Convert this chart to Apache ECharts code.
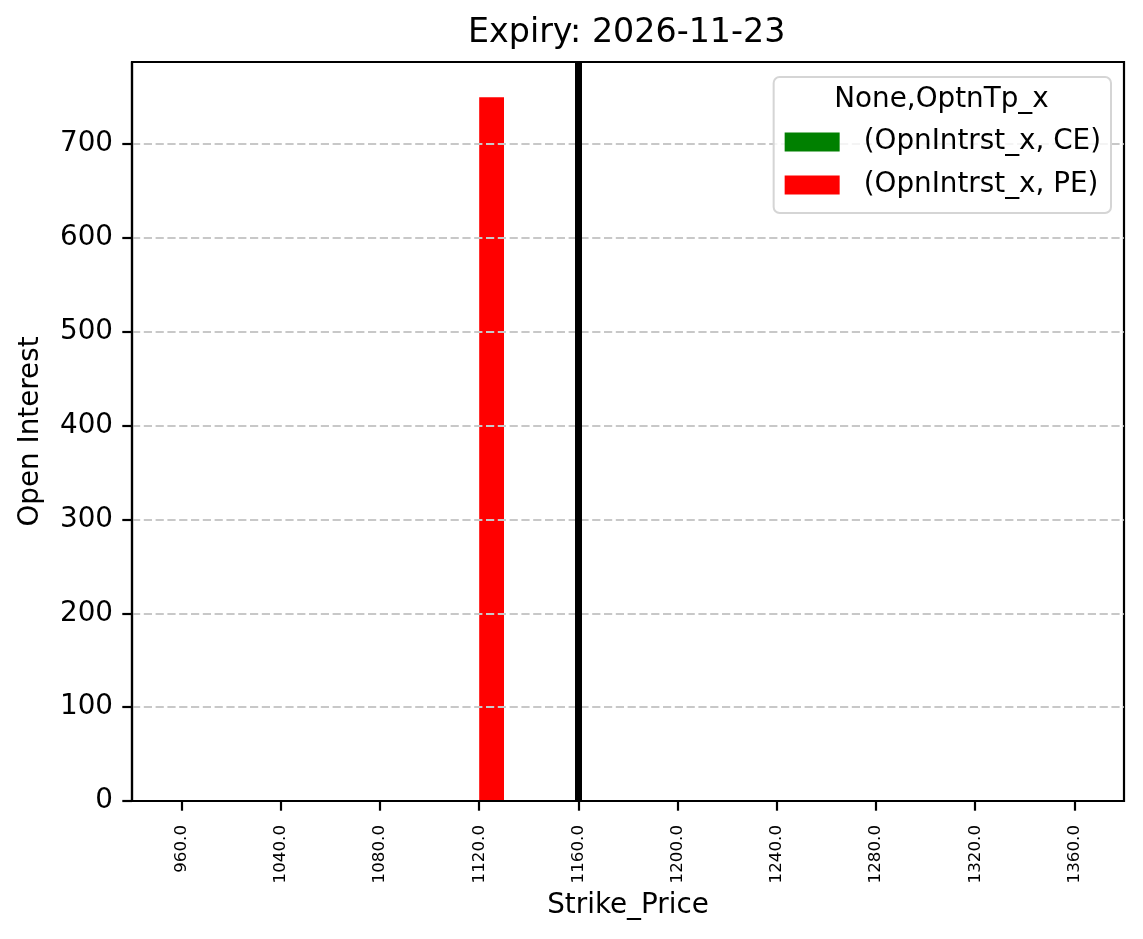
<!DOCTYPE html>
<html><head><meta charset="utf-8">
<script src="https://cdn.jsdelivr.net/npm/echarts@6/dist/echarts.min.js"></script>
<style>html,body{margin:0;padding:0;background:#fff}#c{width:1143px;height:939px}</style>
</head><body><div id="c"></div>
<script>
const strikes = ['960.0','1040.0','1080.0','1120.0','1160.0','1200.0','1240.0','1280.0','1320.0','1360.0'];
const ceOI = [0,0,0,0,0,0,0,0,0,0];
const peOI = [0,0,0,750,0,0,0,0,0,0];
const spotStrike = '1160.0';
const yTicks = [0,100,200,300,400,500,600,700];
const yMax = 787.5;
const titleText = 'Expiry: 2026-11-23';
const legendTitle = 'None,OptnTp_x';
const seriesNames = ['(OpnIntrst_x, CE)', '(OpnIntrst_x, PE)'];
const xName = 'Strike_Price';
const yName = 'Open Interest';

const FF = "'DejaVu Sans', sans-serif";
const chart = echarts.init(document.getElementById('c'), null, {renderer: 'canvas'});
chart.setOption({
  animation: false,
  backgroundColor: '#fff',
  title: {
    text: titleText, left: 468, top: 17, padding: 0,
    textStyle: {fontFamily: FF, fontSize: 33.3, fontWeight: 'normal', color: '#000'}
  },
  graphic: [{
    type: 'text', x: 941.5, y: 100, z: 10,
    style: {text: legendTitle, fill: '#000', fontFamily: FF, fontSize: 27.8,
            align: 'center', verticalAlign: 'middle'}
  }],
  legend: {
    data: seriesNames, orient: 'vertical', right: 32, top: 77,
    padding: [51, 10, 14, 11], itemWidth: 55, itemHeight: 19, itemGap: 15,
    icon: 'rect', selectedMode: false,
    backgroundColor: 'rgba(255,255,255,0.8)', borderColor: '#d5d5d5', borderWidth: 2, borderRadius: 6,
    textStyle: {fontFamily: FF, fontSize: 27.8, lineHeight: 28, color: '#000', padding: [0, 0, 0, 19]}
  },
  grid: {left: 132, right: 19, top: 62, bottom: 138, show: true, borderColor: '#000', borderWidth: 2.2, containLabel: false},
  xAxis: {
    type: 'category', data: strikes, boundaryGap: true, z: 3,
    name: xName, nameLocation: 'middle', nameGap: 88,
    nameTextStyle: {fontFamily: FF, fontSize: 27.8, color: '#000'},
    axisLine: {show: true, lineStyle: {color: '#000', width: 2.2}},
    axisTick: {show: true, alignWithLabel: true, length: 9.7, lineStyle: {color: '#000', width: 2.2}},
    axisLabel: {rotate: 90, interval: 0, margin: 24, fontFamily: FF, fontSize: 16.7, color: '#000'},
    splitLine: {show: false}
  },
  yAxis: {
    type: 'value', min: 0, max: yMax, interval: 100, z: 3,
    name: yName, nameLocation: 'middle', nameGap: 87,
    nameTextStyle: {fontFamily: FF, fontSize: 27.8, color: '#000'},
    axisLine: {show: true, lineStyle: {color: '#000', width: 2.2}},
    axisTick: {show: true, length: 9.7, customValues: yTicks, lineStyle: {color: '#000', width: 2.2}},
    axisLabel: {margin: 19, customValues: yTicks, fontFamily: FF, fontSize: 27.8, color: '#000'},
    splitLine: {show: true, showMinLine: false, showMaxLine: true,
                lineStyle: {color: '#c8c8c8', width: 2.2, type: [8.2, 3.6]}}
  },
  series: [
    {name: seriesNames[0], type: 'bar', data: ceOI, barWidth: '25%', barGap: '0%', z: 2,
     itemStyle: {color: '#008000'}},
    {name: seriesNames[1], type: 'bar', data: peOI, barWidth: '25%', barGap: '0%', z: 2,
     itemStyle: {color: '#ff0000'}},
    {name: 'spot', type: 'line', data: [], z: 6, silent: true,
     markLine: {silent: true, symbol: ['none', 'none'], label: {show: false},
                lineStyle: {color: '#000', width: 7, type: 'solid'},
                data: [{xAxis: spotStrike}]}}
  ]
});
</script></body></html>
